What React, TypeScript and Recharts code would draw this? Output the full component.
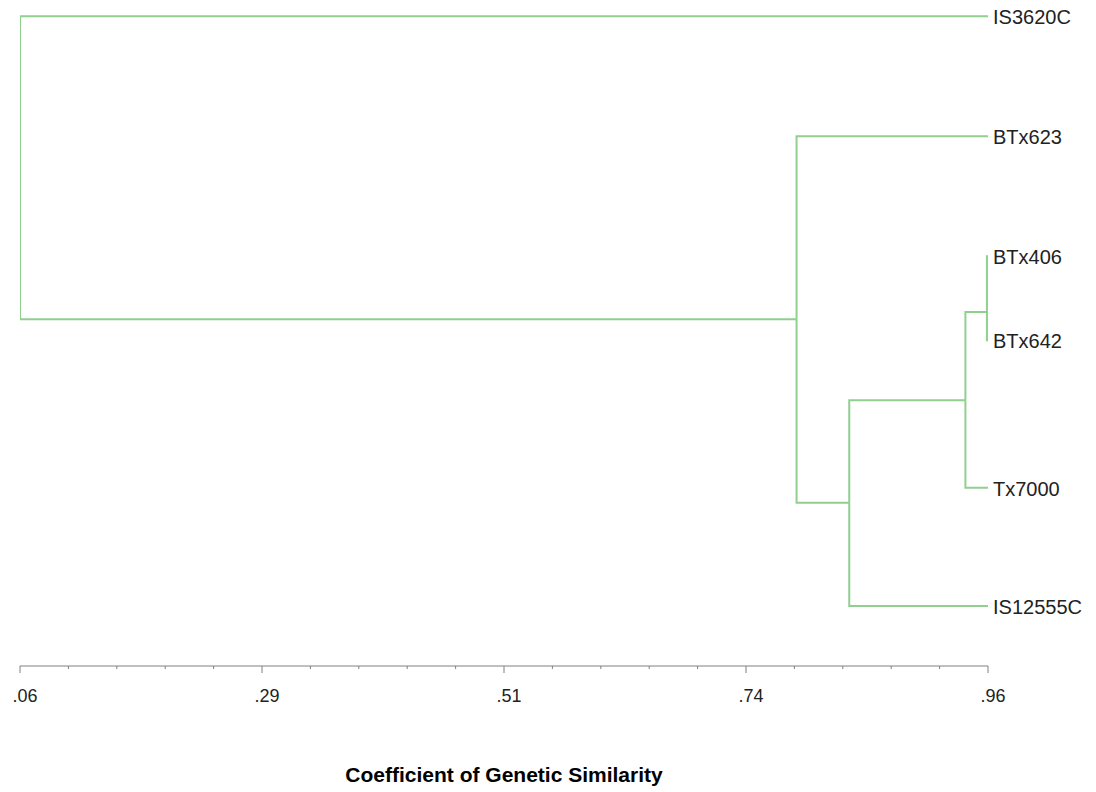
import React from "react";
import { XAxis, YAxis, Scatter, LabelList, Label, ComposedChart, Line } from "recharts";

// Leaves (top to bottom) and their vertical row positions
const leafNames = ["IS3620C", "BTx623", "BTx406", "BTx642", "Tx7000", "IS12555C"];
const leafRows = [0.27, 2.27, 4.27, 5.67, 8.13, 10.1];
const leafSimilarity = 0.96;

// Merge nodes: similarity at which clusters join, and row of the joined node
const nodeNames = ["n1", "n2", "n3", "n4", "root"];
const nodeSimilarity = [0.959, 0.939, 0.831, 0.782, 0.06];
const nodeRows = [5.2, 6.67, 8.38, 5.32, 2.8];
// children of each node
const nodeChildren: string[][] = [
  ["BTx406", "BTx642"],
  ["n1", "Tx7000"],
  ["n2", "IS12555C"],
  ["BTx623", "n3"],
  ["IS3620C", "n4"],
];

// Axis ticks
const axisTicks = [
  0.06, 0.105, 0.15, 0.195, 0.24, 0.285, 0.33, 0.375, 0.42, 0.465, 0.51, 0.555, 0.6, 0.645, 0.69, 0.735,
  0.78, 0.825, 0.87, 0.915, 0.96,
];
const majorTickLabels = [".06", ".29", ".51", ".74", ".96"];

const LINE_COLOR = "#8fd08f";
const FONT = "'Liberation Sans', Arial, sans-serif";

type Pt = { x: number; y: number };

function position(name: string): Pt {
  const li = leafNames.indexOf(name);
  if (li >= 0) return { x: leafSimilarity, y: leafRows[li] };
  const ni = nodeNames.indexOf(name);
  return { x: nodeSimilarity[ni], y: nodeRows[ni] };
}

// elbow paths child -> parent
const links: { key: string; data: Pt[] }[] = [];
nodeNames.forEach((n, i) => {
  const p = position(n);
  nodeChildren[i].forEach((c) => {
    const cp = position(c);
    links.push({
      key: `${n}-${c}`,
      data: [
        { x: cp.x, y: cp.y },
        { x: p.x, y: cp.y },
        { x: p.x, y: p.y },
      ],
    });
  });
});

const leafData = leafNames.map((name, i) => ({ x: leafSimilarity, y: leafRows[i], name }));

const AxisTick = (props: any) => {
  const { x, y, index } = props;
  const major = index % 5 === 0;
  return (
    <g>
      <line x1={x} x2={x} y1={y} y2={y + (major ? 7 : 3)} stroke="#808080" strokeWidth={1} />
      {major && (
        <text x={x + 5} y={y + 36} textAnchor="middle" fontSize={18} fill="#222" fontFamily={FONT}>
          {majorTickLabels[index / 5]}
        </text>
      )}
    </g>
  );
};

const LeafLabel = (props: any) => {
  const { x, y, width, height, value } = props;
  const cx = x + (width || 0) / 2;
  const cy = y + (height || 0) / 2;
  return (
    <text x={cx + 5} y={cy} dy={8} fontSize={20} fill="#222" fontFamily={FONT}>
      {value}
    </text>
  );
};

export default function App() {
  return (
    <div style={{ position: "absolute", left: 0, top: 0, background: "#fff" }}>
      <ComposedChart width={1096} height={792} margin={{ top: 0, right: 108, left: 20, bottom: 0 }}>
        <XAxis
          type="number"
          dataKey="x"
          domain={[0.06, 0.96]}
          ticks={axisTicks}
          interval={0}
          tick={<AxisTick />}
          tickLine={false}
          tickSize={0}
          tickMargin={0}
          axisLine={{ stroke: "#808080", strokeWidth: 1 }}
          height={126}
          allowDataOverflow
        >
          <Label
            value="Coefficient of Genetic Similarity"
            position="insideBottom"
            offset={10}
            style={{ fontSize: 21, fontWeight: "bold", fill: "#000", fontFamily: FONT }}
          />
        </XAxis>
        <YAxis type="number" dataKey="y" domain={[0, 11.1]} reversed hide />
        {links.map((l) => (
          <Line
            key={l.key}
            data={l.data}
            dataKey="y"
            type="linear"
            stroke={LINE_COLOR}
            strokeWidth={2}
            dot={false}
            activeDot={false}
            isAnimationActive={false}
          />
        ))}
        <Scatter data={leafData} dataKey="y" shape={() => <g />} isAnimationActive={false}>
          <LabelList dataKey="name" content={<LeafLabel />} />
        </Scatter>
      </ComposedChart>
    </div>
  );
}
